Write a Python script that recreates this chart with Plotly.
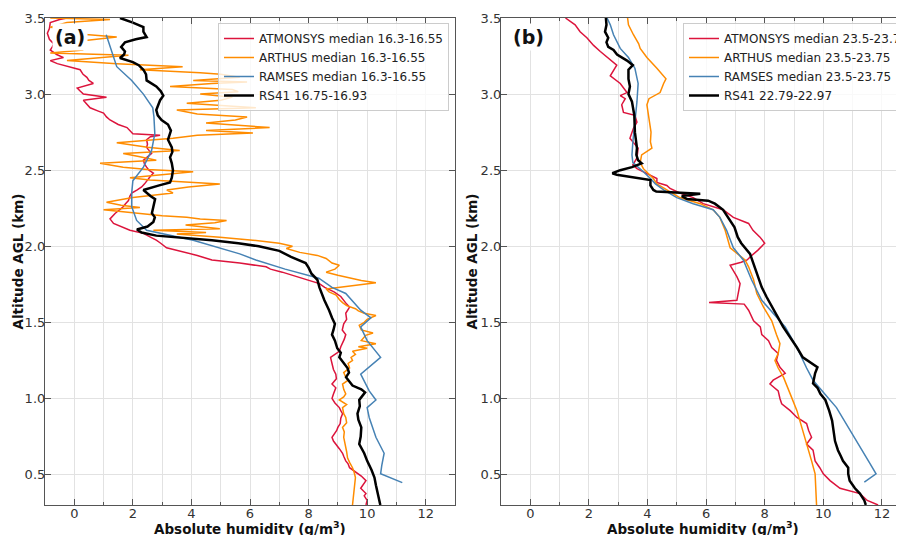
import plotly.graph_objects as go

# ---------------- Panel (a) data ----------------
a_rs41_alt = [0.30,0.375,0.43,0.48,0.53,0.59,0.64,0.70,0.75,0.81,0.86,0.90,0.95,0.99,1.04,1.06,1.085,1.14,1.17,1.20,1.23,1.27,1.30,1.33,1.38,1.42,1.45,1.49,1.53,1.58,1.645,1.69,1.73,1.78,1.82,1.86,1.89,1.93,1.97,2.00,2.02,2.04,2.055,2.07,2.09,2.11,2.13,2.16,2.19,2.217,2.26,2.31,2.33,2.37,2.40,2.42,2.45,2.50,2.545,2.585,2.62,2.65,2.70,2.76,2.80,2.83,2.86,2.895,2.96,2.99,3.02,3.05,3.09,3.13,3.16,3.19,3.21,3.237,3.26,3.28,3.31,3.34,3.36,3.375,3.41,3.44,3.47,3.50]
a_rs41 = [10.45,10.35,10.3,10.25,10.15,10.0,9.9,9.73,9.78,9.8,9.7,9.67,9.75,9.73,9.93,9.8,9.5,9.28,9.38,9.33,9.2,9.05,9.1,8.98,8.9,8.8,8.85,8.9,8.8,8.7,8.54,8.45,8.37,8.3,8.1,8.0,7.9,7.4,7.0,6.3,5.6,4.7,3.7,2.8,2.3,2.14,2.5,2.7,2.75,2.65,2.7,2.76,2.6,2.36,2.9,3.27,3.33,3.37,3.33,3.27,3.35,3.33,3.2,3.3,3.2,2.98,2.85,2.8,2.93,3.04,2.95,2.8,2.47,2.45,2.36,2.2,2.0,1.56,1.7,1.73,1.6,1.73,2.1,2.47,2.36,2.36,2.0,1.56]

a_ramses_alt = [0.447,0.505,0.56,0.64,0.745,0.875,0.94,0.99,1.05,1.16,1.27,1.38,1.47,1.53,1.58,1.69,1.73,1.79,1.85,1.91,1.95,2.04,2.105,2.17,2.26,2.35,2.43,2.52,2.63,2.74,2.85,2.91,3.0,3.09,3.18,3.24,3.31,3.39]
a_ramses = [11.2,10.46,10.5,10.58,10.3,10.07,10.0,10.3,10.07,9.78,10.46,10.0,9.78,10.13,9.78,9.27,8.8,8.35,7.2,6.2,5.65,4.06,2.47,2.13,1.96,1.96,2.0,2.36,2.64,2.75,2.72,2.68,2.36,1.96,1.45,1.34,1.22,1.09]

a_atm_alt = [0.30,0.33,0.36,0.375,0.41,0.44,0.46,0.49,0.52,0.545,0.57,0.59,0.62,0.64,0.67,0.70,0.72,0.745,0.77,0.79,0.81,0.835,0.87,0.90,0.92,0.94,0.97,1.0,1.03,1.07,1.095,1.13,1.16,1.19,1.23,1.27,1.29,1.31,1.34,1.36,1.39,1.42,1.45,1.49,1.52,1.56,1.58,1.60,1.62,1.645,1.67,1.70,1.73,1.755,1.79,1.83,1.85,1.865,1.89,1.91,1.94,1.97,1.99,2.02,2.04,2.06,2.085,2.105,2.13,2.15,2.18,2.20,2.217,2.24,2.26,2.28,2.30,2.33,2.35,2.37,2.39,2.41,2.43,2.46,2.48,2.50,2.52,2.54,2.565,2.59,2.61,2.63,2.65,2.67,2.70,2.72,2.73,2.74,2.76,2.78,2.80,2.83,2.85,2.875,2.89,2.91,2.94,2.96,2.98,3.0,3.02,3.04,3.07,3.09,3.11,3.13,3.16,3.18,3.20,3.22,3.24,3.26,3.29,3.31,3.33,3.36,3.40,3.43,3.47,3.49,3.50]
a_atm = [9.96,10.0,9.9,9.96,9.78,9.9,9.96,9.8,9.6,9.4,9.35,9.27,9.2,9.16,9.05,8.93,8.85,8.8,8.9,8.96,9.0,9.08,9.1,9.16,9.1,9.05,8.9,8.8,8.85,8.93,8.8,8.95,8.93,8.85,8.8,8.75,8.9,9.05,9.1,9.16,9.22,9.27,9.15,9.2,9.3,9.27,9.35,9.4,9.3,9.2,9.1,8.87,8.55,8.37,7.8,7.1,6.7,6.55,5.65,4.7,4.2,3.6,3.15,2.95,2.8,2.6,2.36,1.9,1.6,1.34,1.22,1.3,1.4,1.55,1.67,1.75,1.85,1.9,1.96,2.15,2.3,2.4,2.47,2.6,2.7,2.55,2.47,2.4,2.36,2.5,2.64,2.55,2.47,2.5,2.47,2.6,2.93,2.0,1.9,1.8,1.5,1.22,1.1,1.0,0.8,0.54,0.4,0.31,1.1,0.31,0.2,0.1,0.65,0.5,0.43,0.3,0.2,-0.2,-0.58,-0.82,-0.37,-0.6,-0.82,-0.75,-0.7,-0.85,-0.92,-0.85,-0.82,-0.5,-0.25]

a_arthus_alt = [0.30,0.34,0.375,0.42,0.48,0.52,0.545,0.58,0.61,0.65,0.68,0.71,0.745,0.78,0.81,0.84,0.875,0.90,0.94,0.96,0.99,1.01,1.03,1.06,1.095,1.12,1.14,1.17,1.20,1.23,1.25,1.27,1.29,1.31,1.33,1.34,1.36,1.38,1.40,1.415,1.43,1.45,1.48,1.50,1.52,1.545,1.56,1.575,1.59,1.61,1.63,1.65,1.68,1.70,1.72,1.735,1.75,1.76,1.775,1.79,1.81,1.83,1.85,1.875,1.89,1.92,1.94,1.96,1.985,2.00,2.02,2.04,2.06,2.08,2.09,2.105,2.115,2.125,2.14,2.155,2.17,2.18,2.19,2.20,2.215,2.24,2.255,2.27,2.29,2.31,2.32,2.35,2.37,2.39,2.41,2.425,2.435,2.45,2.47,2.49,2.505,2.52,2.545,2.565,2.59,2.61,2.63,2.65,2.68,2.71,2.73,2.745,2.76,2.78,2.81,2.83,2.85,2.87,2.895,2.91,2.94,2.96,2.98,3.0,3.015,3.03,3.05,3.07,3.08,3.09,3.11,3.13,3.14,3.16,3.18,3.20,3.22,3.24,3.255,3.27,3.29,3.31,3.33,3.35,3.375,3.39,3.40,3.42,3.44,3.47,3.49,3.50]
a_arthus = [9.5,9.52,9.55,9.58,9.6,9.55,9.5,9.4,9.33,9.3,9.27,9.25,9.2,9.22,9.16,9.3,9.27,9.2,9.16,9.3,9.05,9.2,9.27,9.2,9.16,9.35,9.27,9.2,9.4,9.35,9.5,9.45,9.6,9.5,10.0,9.7,10.3,9.8,9.9,9.95,10.2,9.8,9.73,9.9,10.0,10.3,9.9,9.7,9.6,9.3,9.16,9.05,8.94,8.7,8.6,9.3,9.96,10.3,9.8,9.4,9.0,8.6,8.9,9.05,8.8,8.6,8.3,7.7,7.24,7.45,7.0,6.1,4.97,3.5,4.5,2.7,4.97,4.5,3.8,4.8,5.2,4.3,3.84,3.0,2.24,1.0,2.24,1.6,1.1,1.8,2.0,3.37,3.16,3.9,4.97,3.5,2.58,1.9,3.0,4.06,2.5,1.67,0.88,2.8,2.2,1.67,3.6,2.5,1.45,3.37,4.2,6.1,4.5,6.67,4.5,5.5,5.9,4.2,3.5,6.2,3.84,5.0,5.4,4.3,5.6,5.4,3.27,4.7,5.9,4.06,5.65,5.0,4.3,2.24,3.7,1.45,-0.25,0.88,1.85,-0.82,0.31,-0.58,-0.25,0.3,1.45,0.5,-0.58,0.2,-0.82,-0.25,1.22,-0.82]

# ---------------- Panel (b) data ----------------
b_rs41_alt = [0.30,0.33,0.375,0.41,0.46,0.505,0.545,0.59,0.62,0.66,0.72,0.79,0.855,0.92,0.99,1.03,1.07,1.10,1.165,1.205,1.23,1.27,1.335,1.40,1.47,1.53,1.60,1.665,1.73,1.80,1.865,1.91,1.95,2.02,2.06,2.125,2.19,2.24,2.28,2.30,2.31,2.33,2.345,2.355,2.36,2.37,2.40,2.435,2.455,2.47,2.48,2.50,2.52,2.545,2.565,2.60,2.645,2.75,2.86,2.95,3.0,3.05,3.10,3.16,3.19,3.22,3.26,3.29,3.31,3.34,3.37,3.41,3.455,3.50]
b_rs41 = [11.45,11.4,11.25,11.08,10.9,10.85,10.85,10.67,10.6,10.5,10.4,10.35,10.3,10.2,10.07,9.9,9.8,9.65,9.72,9.8,9.6,9.3,9.1,8.86,8.63,8.46,8.25,8.07,7.9,7.77,7.66,7.55,7.5,7.2,7.08,6.97,6.75,6.58,6.3,6.07,5.35,5.17,5.8,5.0,4.3,4.2,4.1,4.1,3.4,2.95,2.8,3.07,3.47,3.8,3.68,3.62,3.64,3.57,3.55,3.47,3.35,3.4,3.35,3.35,3.5,3.3,2.96,2.84,2.66,2.6,2.66,2.55,2.6,2.58]

b_ramses_alt = [0.45,0.505,0.57,0.68,0.81,0.94,1.03,1.12,1.20,1.335,1.47,1.58,1.645,1.78,1.91,1.99,2.105,2.19,2.24,2.28,2.32,2.37,2.41,2.445,2.49,2.55,2.60,2.685,2.82,2.95,3.07,3.17,3.24,3.30,3.39,3.455,3.50]
b_ramses = [11.4,11.8,11.6,11.25,10.85,10.45,10.05,9.65,9.43,9.1,8.7,8.18,7.9,7.55,7.27,6.93,6.7,6.47,6.24,5.56,5.0,4.55,4.27,4.1,3.86,3.5,3.47,3.5,3.58,3.64,3.68,3.57,3.35,3.07,2.84,2.73,2.62]

b_arthus_alt = [0.30,0.40,0.505,0.59,0.70,0.81,0.92,1.03,1.14,1.20,1.25,1.295,1.36,1.42,1.51,1.60,1.69,1.78,1.865,1.91,1.99,2.105,2.15,2.19,2.24,2.28,2.32,2.37,2.41,2.445,2.51,2.55,2.60,2.645,2.685,2.75,2.85,2.93,2.97,3.01,3.07,3.10,3.17,3.22,3.24,3.30,3.33,3.39,3.455,3.50]
b_arthus = [9.77,9.75,9.72,9.6,9.43,9.27,9.1,8.87,8.64,8.46,8.35,8.46,8.52,8.4,8.24,7.96,7.73,7.62,7.45,7.33,6.82,6.65,6.54,6.47,6.24,5.8,5.1,4.66,4.32,4.2,3.86,3.75,3.8,4.15,4.1,4.12,4.05,3.98,4.05,4.43,4.55,4.63,4.32,4.1,3.98,3.75,3.7,3.52,3.35,3.32]

b_atm_alt = [0.30,0.33,0.375,0.41,0.46,0.505,0.545,0.59,0.66,0.70,0.745,0.79,0.835,0.875,0.92,0.965,1.0,1.05,1.095,1.12,1.165,1.205,1.25,1.295,1.335,1.38,1.42,1.47,1.51,1.58,1.62,1.63,1.645,1.69,1.755,1.80,1.84,1.875,1.895,1.91,1.93,1.975,2.02,2.06,2.105,2.15,2.19,2.24,2.28,2.32,2.35,2.38,2.40,2.42,2.445,2.49,2.51,2.535,2.58,2.645,2.71,2.775,2.815,2.86,2.88,2.93,2.97,2.99,3.01,3.07,3.12,3.19,3.24,3.28,3.32,3.37,3.41,3.455,3.50]
b_atm = [11.87,11.5,11.25,10.57,10.23,10.0,9.88,9.72,9.65,9.43,9.6,9.5,9.43,9.1,8.87,8.58,8.52,8.46,8.18,8.29,8.7,8.52,8.4,8.46,8.24,8.13,7.9,7.85,7.62,7.45,7.3,6.1,7.05,7.1,7.16,7.05,6.93,6.82,7.2,7.4,7.5,7.77,8.0,7.84,7.6,7.45,6.93,6.58,5.9,5.56,5.1,4.77,4.66,4.32,4.32,3.86,3.64,3.5,3.64,3.68,3.4,3.52,3.64,3.57,3.18,3.12,3.24,3.07,3.3,3.07,2.73,2.95,2.62,2.39,2.16,1.93,1.7,1.53,1.2]

# ---------------- Labels / styles ----------------
names_a = ["ATMONSYS median 16.3-16.55", "ARTHUS median 16.3-16.55", "RAMSES median 16.3-16.55", "RS41 16.75-16.93"]
names_b = ["ATMONSYS median 23.5-23.75", "ARTHUS median 23.5-23.75", "RAMSES median 23.5-23.75", "RS41 22.79-22.97"]
colors = ["#DC143C", "#FF8C00", "#4682B4", "#000000"]
widths = [1.5, 1.5, 1.5, 2.5]

fig = go.Figure()
series_a = [(a_atm, a_atm_alt), (a_arthus, a_arthus_alt), (a_ramses, a_ramses_alt), (a_rs41, a_rs41_alt)]
series_b = [(b_atm, b_atm_alt), (b_arthus, b_arthus_alt), (b_ramses, b_ramses_alt), (b_rs41, b_rs41_alt)]
for i, (xv, yv) in enumerate(series_a):
    fig.add_trace(go.Scatter(x=xv, y=yv, mode="lines", name=names_a[i],
                             line=dict(color=colors[i], width=widths[i]),
                             xaxis="x", yaxis="y", legend="legend"))
for i, (xv, yv) in enumerate(series_b):
    fig.add_trace(go.Scatter(x=xv, y=yv, mode="lines", name=names_b[i],
                             line=dict(color=colors[i], width=widths[i]),
                             xaxis="x2", yaxis="y2", legend="legend2"))

W, H = 904, 535
S = 8  # page body margin offset
def px_x(p):  # page x pixel -> paper fraction
    return (p - S) / W
def px_y(p):  # page y pixel (from top) -> paper fraction
    return (H - (p - S)) / H

axcol = "#555555"
grid = "#e2e2e2"
tickfont = dict(family="DejaVu Sans", size=13, color="#333333")

def xax(domain, rng, anchor):
    return dict(domain=domain, range=rng, anchor=anchor, tick0=0, dtick=2, automargin=False,
                ticks="inside", ticklen=6, tickcolor=axcol, showline=True, linecolor=axcol,
                linewidth=1.2, mirror="ticks", showgrid=True, gridcolor=grid, gridwidth=1,
                zeroline=False, tickfont=tickfont, ticklabelstandoff=-4,
                minor=dict(dtick=1, tick0=0, ticks="inside", ticklen=3, tickcolor=axcol,
                           showgrid=True, gridcolor=grid, gridwidth=1))

def yax(domain, anchor):
    return dict(domain=domain, range=[0.3, 3.5], anchor=anchor, tick0=0.5, dtick=0.5,
                automargin=False, ticklabelstandoff=-4,
                tickformat=".1f", ticks="inside", ticklen=6, tickcolor=axcol, showline=True,
                linecolor=axcol, linewidth=1.2, mirror="ticks", showgrid=True, gridcolor=grid,
                gridwidth=1, zeroline=False, tickfont=tickfont)

ydom = [px_y(505), px_y(18)]
# panel b: page px 501 -> -1, 29.3 px per unit, extends past the window edge
b_right = -1 + (W + S - 501) / 29.3
fig.update_layout(
    width=W, height=H, margin=dict(l=0, r=0, t=0, b=0, autoexpand=False),
    paper_bgcolor="white", plot_bgcolor="white",
    font=dict(family="DejaVu Sans", color="#222222"),
    xaxis=xax([px_x(45), px_x(455)], [-1, 13], "y"),
    yaxis=yax(ydom, "x"),
    xaxis2=xax([px_x(501), 1.0], [-1, b_right], "y2"),
    yaxis2=yax(ydom, "x2"),
    legend=dict(x=px_x(449), y=px_y(23), xanchor="right", yanchor="top",
                bgcolor="rgba(255,255,255,0.8)", bordercolor="#cccccc", borderwidth=1,
                font=dict(family="DejaVu Sans", size=12, color="#222222"),
                tracegroupgap=0, itemwidth=30),
    legend2=dict(x=px_x(683), y=px_y(23), xanchor="left", yanchor="top",
                 bgcolor="rgba(255,255,255,0.8)", bordercolor="#cccccc", borderwidth=1,
                 font=dict(family="DejaVu Sans", size=12, color="#222222"),
                 tracegroupgap=0, itemwidth=30),
    showlegend=True,
)

title_font = dict(family="DejaVu Sans", size=13.5, color="#111111")
ann = []
for cx in [(45 + 455) / 2, (501 + 904) / 2]:
    ann.append(dict(text="<b>Absolute humidity (g/m<sup>3</sup>)</b>", x=px_x(cx), y=px_y(528),
                    xref="paper", yref="paper", xanchor="center", yanchor="middle",
                    showarrow=False, font=title_font))
for ax_px in [17, 471]:
    ann.append(dict(text="<b>Altitude AGL (km)</b>", x=px_x(ax_px), y=(ydom[0] + ydom[1]) / 2,
                    xref="paper", yref="paper", xanchor="center", yanchor="middle",
                    textangle=-90, showarrow=False, font=title_font))
for lab, px in [("(a)", 52), ("(b)", 510)]:
    ann.append(dict(text="<b>" + lab + "</b>", x=px_x(px), y=px_y(37), xref="paper", yref="paper",
                    xanchor="left", yanchor="middle", showarrow=False, bgcolor="white",
                    borderpad=2, font=dict(family="DejaVu Sans", size=19, color="#111111")))
fig.update_layout(annotations=ann)

fig.write_html("out.html")
